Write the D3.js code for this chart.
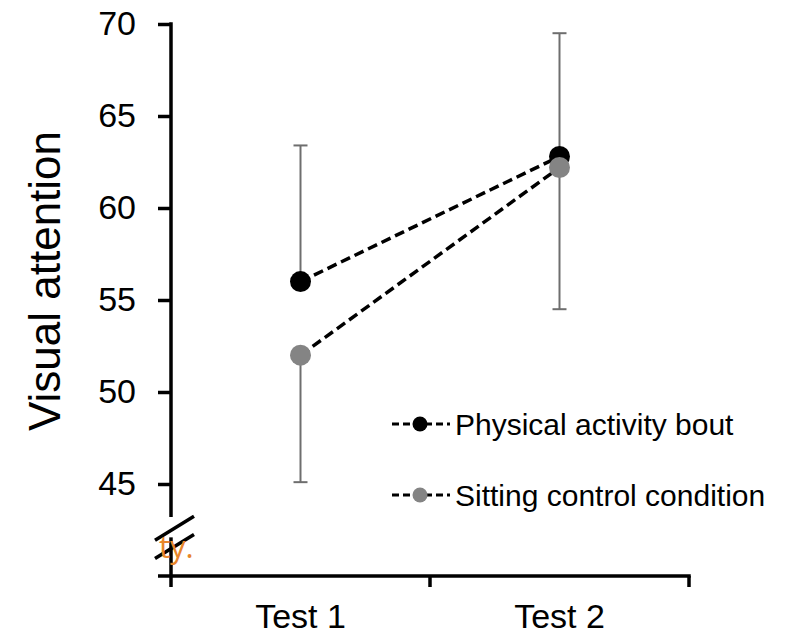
<!DOCTYPE html>
<html>
<head>
<meta charset="utf-8">
<script src="https://cdn.jsdelivr.net/npm/d3@7"></script>
<style>
  body { margin: 0; background: #fff; }
  svg { display: block; font-family: "Liberation Sans", Arial, sans-serif; }
</style>
</head>
<body>
<svg id="chart" width="786" height="638"></svg>
<script>
// data
const categories = ['Test 1', 'Test 2'];
const activity = [56.0, 62.8];
const sitting = [52.0, 62.2];
const activityErrUp = [7.4, 6.7];
const sittingErrDown = [6.9, 7.7];
const yTicks = [45, 50, 55, 60, 65, 70];
const legendNames = ['Physical activity bout', 'Sitting control condition'];
const seriesColors = ['#000000', '#848484'];

const svg = d3.select('#chart');

const y = d3.scaleLinear().domain([40, 70]).range([576, 24]);
const x = d3.scaleBand().domain(categories).range([171, 689]);
const cx = d => x(d) + x.bandwidth() / 2;
const axisW = 3.5;

// y axis (ticks + labels), domain drawn by hand for the break
const yAxis = d3.axisLeft(y).tickValues(yTicks).tickSize(13).tickPadding(22);
const gy = svg.append('g').attr('transform', 'translate(171,0)').call(yAxis);
gy.select('.domain').remove();
gy.selectAll('.tick line').attr('stroke', '#000').attr('stroke-width', axisW);
gy.selectAll('.tick text').attr('font-size', 34).attr('fill', '#000');

const axisX = x.range()[0];
svg.append('line')
  .attr('x1', axisX).attr('x2', axisX)
  .attr('y1', y(70) - 1.75).attr('y2', y(43.2))
  .attr('stroke', '#000').attr('stroke-width', axisW);
svg.append('line')
  .attr('x1', axisX).attr('x2', axisX)
  .attr('y1', y(42.1)).attr('y2', y(40) + 11)
  .attr('stroke', '#000').attr('stroke-width', axisW);

// break slashes
[42.6, 41.6].forEach(v => {
  svg.append('line')
    .attr('x1', axisX - 16).attr('y1', y(v) + 12)
    .attr('x2', axisX + 23).attr('y2', y(v) - 12)
    .attr('stroke', '#000').attr('stroke-width', axisW);
});

// x axis
svg.append('line')
  .attr('x1', axisX - 13).attr('x2', x.range()[1] + 1.75)
  .attr('y1', y(40)).attr('y2', y(40))
  .attr('stroke', '#000').attr('stroke-width', axisW);
const bounds = categories.slice(1).map(d => x(d)).concat([x.range()[1]]);
svg.selectAll('.xbound').data(bounds).enter().append('line')
  .attr('class', 'xbound')
  .attr('x1', d => d).attr('x2', d => d)
  .attr('y1', y(40)).attr('y2', y(40) + 11)
  .attr('stroke', '#000').attr('stroke-width', axisW);
svg.selectAll('.xlabel').data(categories).enter().append('text')
  .attr('class', 'xlabel')
  .attr('x', cx).attr('y', 628)
  .attr('text-anchor', 'middle')
  .attr('font-size', 34).attr('fill', '#000')
  .text(d => d);

// y title
svg.append('text')
  .attr('transform', 'translate(60,281) rotate(-90)')
  .attr('text-anchor', 'middle')
  .attr('font-size', 44).attr('fill', '#000')
  .text('Visual attention');

// error bars: activity goes up, sitting goes down
function errorBars(vals, errs, sign) {
  const g = svg.append('g').attr('stroke', '#6e6e6e').attr('stroke-width', 2);
  categories.forEach((c, i) => {
    const end = y(vals[i] + sign * errs[i]);
    g.append('line').attr('x1', cx(c)).attr('x2', cx(c))
      .attr('y1', y(vals[i])).attr('y2', end);
    g.append('line').attr('x1', cx(c) - 7).attr('x2', cx(c) + 7)
      .attr('y1', end).attr('y2', end);
  });
}
errorBars(activity, activityErrUp, 1);
errorBars(sitting, sittingErrDown, -1);

// dashed lines
const line = d3.line().x((d, i) => cx(categories[i])).y(d => y(d));
[activity, sitting].forEach(s => {
  svg.append('path').datum(s)
    .attr('d', line)
    .attr('fill', 'none')
    .attr('stroke', '#000').attr('stroke-width', 3.5)
    .attr('stroke-dasharray', '10,5');
});

// points
[activity, sitting].forEach((s, k) => {
  svg.selectAll('.pt' + k).data(s).enter().append('circle')
    .attr('class', 'pt' + k)
    .attr('cx', (d, i) => cx(categories[i]))
    .attr('cy', d => y(d))
    .attr('r', 10.5)
    .attr('fill', seriesColors[k]);
});

// legend
const legend = svg.selectAll('.legend').data(legendNames).enter().append('g')
  .attr('class', 'legend')
  .attr('transform', (d, i) => `translate(392,${424 + i * 71})`);
legend.append('line')
  .attr('x1', 0).attr('x2', 58).attr('y1', 0).attr('y2', 0)
  .attr('stroke', '#000').attr('stroke-width', 3)
  .attr('stroke-dasharray', '7,4');
legend.append('circle')
  .attr('cx', 28).attr('cy', 0).attr('r', 7.5)
  .attr('fill', (d, i) => seriesColors[i]);
legend.append('text')
  .attr('x', 63).attr('y', 0).attr('dy', '0.35em')
  .attr('font-size', 30).attr('fill', '#000')
  .text(d => d);

// stray caption fragment at the left edge
svg.append('text')
  .attr('x', 159).attr('y', 558)
  .attr('font-family', '"Open Sans", sans-serif')
  .attr('font-size', 31).attr('fill', '#e8862a')
  .text('ty.');
</script>
</body>
</html>
